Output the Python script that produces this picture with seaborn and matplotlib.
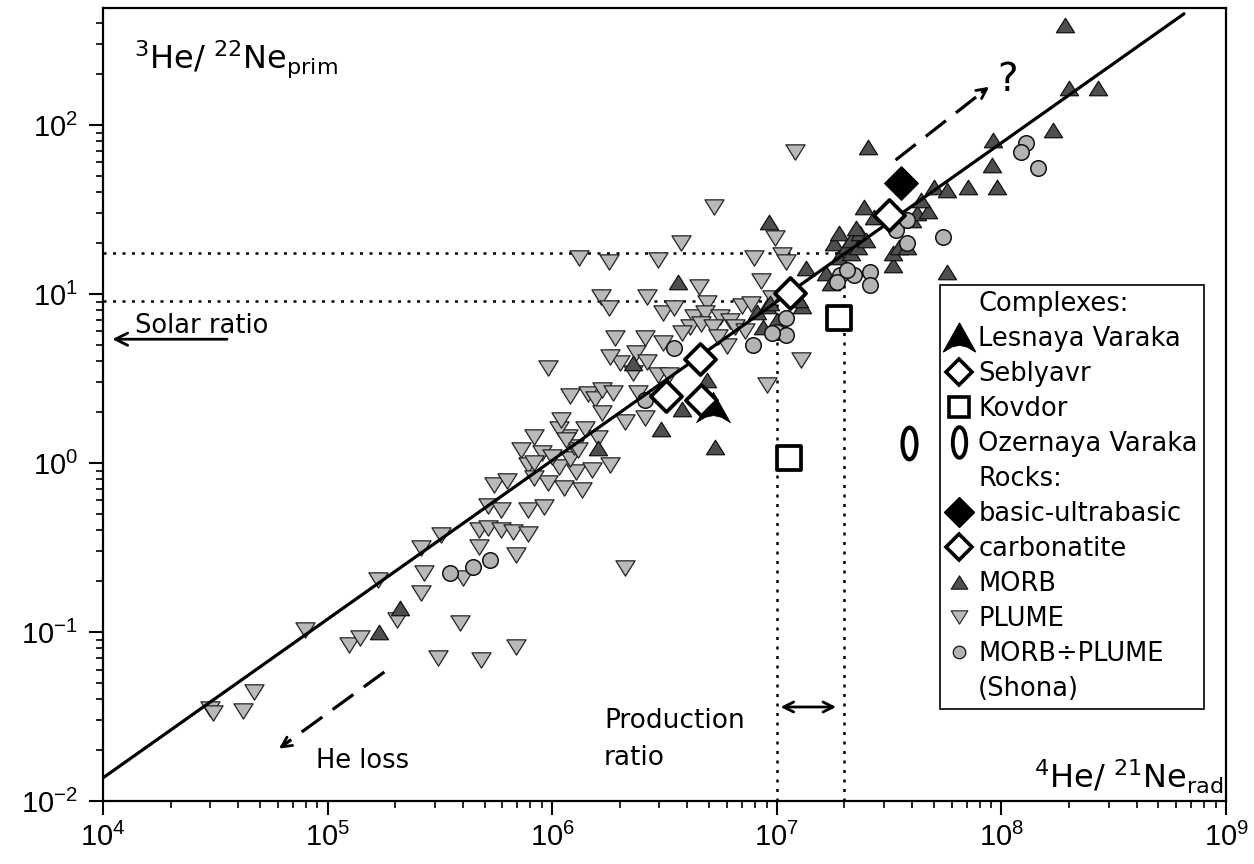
import numpy as np
import pandas as pd
import matplotlib
matplotlib.use('Agg')
import matplotlib.pyplot as plt
from matplotlib.path import Path
from matplotlib.transforms import Affine2D
from matplotlib.lines import Line2D
import seaborn as sns

# ---- data (4He/21Ne_rad, 3He/22Ne_prim) ----
plume_x = [3.0e4, 3.1e4, 4.2e4, 4.7e4, 7.9e4, 1.25e5, 1.39e5, 1.68e5, 2.03e5, 2.6e5,
           2.7e5, 2.6e5, 3.2e5, 3.1e5, 3.9e5, 4.0e5, 4.7e5, 4.8e5, 6.9e5, 6.9e5,
           4.7e5, 5.2e5, 5.9e5, 6.7e5, 7.8e5, 5.2e5, 5.9e5, 5.5e5, 6.3e5, 7.8e5,
           9.2e5, 9.6e5, 1.13e6, 1.28e6, 7.8e5, 1.07e6, 1.2e6, 7.3e5, 9.0e5, 1.25e6,
           8.3e5, 1.18e6, 1.07e6, 1.1e6, 1.2e6, 9.6e5, 8.3e5, 8.3e5, 1.0e6, 1.15e6,
           1.3e6, 1.36e6, 1.8e6, 1.5e6, 1.45e6, 1.55e6, 1.66e6, 1.87e6, 2.4e6, 1.66e6,
           2.1e6, 2.6e6, 2.0e6, 1.8e6, 2.35e6, 2.65e6, 2.3e6, 2.95e6, 3.3e6, 1.9e6,
           2.6e6, 3.1e6, 1.4e6, 1.6e6, 2.1e6, 1.32e6, 1.79e6, 2.96e6, 7.9e6, 3.74e6,
           5.25e6, 1.21e7, 4.5e6, 1.65e6, 1.79e6, 2.65e6, 3.1e6, 3.5e6, 4.9e6, 7.0e6,
           7.7e6, 4.3e6, 4.8e6, 5.6e6, 6.2e6, 4.1e6, 4.6e6, 5.2e6, 6.5e6, 6.0e6,
           5.5e6, 3.8e6, 9.8e6, 1.06e7, 1.1e7, 8.5e6, 9.0e6, 1.28e7, 7.2e6, 9.5e6]
plume_y = [0.035, 0.033, 0.034, 0.044, 0.103, 0.084, 0.092, 0.203, 0.118, 0.17,
           0.223, 0.314, 0.375, 0.07, 0.113, 0.21, 0.32, 0.068, 0.081, 0.286,
           0.40, 0.41, 0.40, 0.39, 0.38, 0.56, 0.53, 0.74, 0.78, 0.53,
           0.55, 0.76, 0.71, 0.88, 0.97, 0.95, 1.05, 1.19, 1.15, 1.24,
           1.43, 1.43, 1.6, 1.8, 2.5, 3.65, 1.0, 0.82, 1.08, 1.36,
           1.2, 0.69, 0.97, 0.91, 2.55, 2.4, 2.7, 2.6, 2.6, 1.97,
           1.75, 1.85, 3.9, 4.25, 4.5, 3.95, 3.4, 3.3, 3.3, 5.5,
           5.5, 5.1, 1.6, 1.4, 0.24, 16.3, 15.5, 15.8, 16.3, 20.0,
           32.7, 69.0, 11.0, 9.6, 8.3, 9.6, 7.7, 8.3, 8.9, 8.5,
           8.7, 7.3, 7.7, 7.3, 6.9, 6.4, 6.6, 6.4, 6.4, 4.9,
           5.6, 5.9, 21.4, 17.0, 15.5, 12.0, 2.9, 4.06, 6.0, 9.5]

morb_x = [1.7e5, 2.1e5, 1.6e6, 3.05e6, 5.3e6, 3.8e6, 4.9e6, 2.3e6, 3.63e6, 9.2e6,
          1.35e7, 8.2e6, 9.0e6, 1.3e7, 8.7e6, 1.0e7, 9.3e6, 1.25e7, 1.65e7, 1.75e7,
          1.9e7, 2.15e7, 1.8e7, 1.9e7, 2.05e7, 2.15e7, 2.35e7, 2.3e7, 2.25e7, 2.5e7,
          2.44e7, 2.7e7, 3.3e7, 3.3e7, 3.5e7, 3.8e7, 4.0e7, 4.2e7, 4.7e7, 4.4e7,
          5.0e7, 5.7e7, 7.1e7, 9.6e7, 5.7e7, 2.55e7, 9.2e7, 9.1e7, 1.7e8, 1.99e8,
          2.7e8, 1.92e8]
morb_y = [0.10, 0.139, 1.23, 1.6, 1.24, 2.1, 3.1, 3.9, 11.8, 26.7,
          14.3, 7.8, 8.5, 8.5, 6.4, 7.0, 8.8, 9.2, 13.3, 11.6,
          16.6, 17.5, 20.0, 23.0, 19.2, 21.0, 23.0, 19.0, 24.5, 21.0,
          32.7, 28.6, 14.9, 17.5, 19.0, 19.0, 27.4, 30.0, 31.0, 36.0,
          43.0, 41.0, 43.0, 43.0, 13.5, 74.0, 81.0, 58.0, 93.0, 166.0,
          166.0, 391.0]

shona_x = [3.5e5, 4.45e5, 5.3e5, 2.6e6, 3.5e6, 7.8e6, 1.0e7, 1.1e7, 9.5e6, 1.1e7,
           1.92e7, 1.85e7, 2.2e7, 2.05e7, 2.6e7, 2.6e7, 3.4e7, 3.8e7, 3.8e7, 5.5e7,
           1.28e8, 1.22e8, 1.45e8]
shona_y = [0.223, 0.243, 0.267, 2.35, 4.8, 5.0, 5.96, 5.7, 5.9, 7.2,
           12.9, 11.8, 12.9, 13.8, 13.5, 11.3, 24.0, 27.4, 20.0, 21.8,
           78.0, 69.0, 56.0]

lesnaya_x, lesnaya_y = [5.2e6], [2.14]
seblyavr_x = [3.2e6, 4.55e6, 4.6e6, 1.14e7, 3.15e7]
seblyavr_y = [2.49, 4.1, 2.37, 10.1, 29.3]
kovdor_x, kovdor_y = [1.89e7, 1.13e7], [7.2, 1.07]
ozernaya_x, ozernaya_y = [3.86e7], [1.31]
basic_x, basic_y = [3.56e7], [45.4]

# reference line and ratios
line_x = [1e4, 6.5e8]
line_y = [0.0137, 455]
ratio_hi, ratio_lo = 17.5, 9.1        # 3He/22Ne levels (dotted)
prod_lo, prod_hi = 1e7, 2e7           # production ratio range
solar_ratio = 5.4

# ---- style ----
sns.set_theme(style='ticks')
plt.rcParams['font.family'] = ['Liberation Sans', 'DejaVu Sans']
plt.rcParams['mathtext.fontset'] = 'custom'
plt.rcParams['mathtext.rm'] = 'Liberation Sans'
plt.rcParams['mathtext.it'] = 'Liberation Sans:italic'
plt.rcParams['mathtext.bf'] = 'Liberation Sans:bold'
for k in ['text.color', 'axes.labelcolor', 'xtick.color', 'ytick.color', 'axes.edgecolor']:
    plt.rcParams[k] = 'black'
note_font = 'DejaVu Sans'

# custom marker shapes
arrowhead = Path([(0, 0.85), (0.95, -0.85), (0.45, -0.55), (0, -0.45), (-0.45, -0.55),
                  (-0.95, -0.85), (0, 0.85)], closed=True)
ellipse = Path.unit_circle().transformed(Affine2D().scale(0.44, 1.0))
down_tri = Path([(0, -0.8), (-1, 0.8), (1, 0.8), (0, -0.8)], closed=True)
up_tri = Path([(0, 0.8), (-1, -0.8), (1, -0.8), (0, 0.8)], closed=True)

plume_c, morb_c, shona_c = '#b9b9b9', '#4e4e4e', '#b3b3b3'

fig = plt.figure(figsize=(12.54, 8.64), dpi=100)
ax = fig.add_axes([0.0821, 0.0729, 0.8956, 0.9178])
ax.set_xscale('log')
ax.set_yscale('log')

# dotted guide lines
dot = dict(color='black', lw=1.8, linestyle=(0, (1.2, 2.6)), zorder=1)
ax.plot([1e4, prod_hi], [ratio_hi, ratio_hi], **dot)
ax.plot([1e4, prod_lo], [ratio_lo, ratio_lo], **dot)
ax.plot([prod_lo, prod_lo], [0.01, ratio_lo], **dot)
ax.plot([prod_hi, prod_hi], [0.01, ratio_hi], **dot)

sns.scatterplot(x=plume_x, y=plume_y, ax=ax, marker=down_tri, s=190, color=plume_c,
                edgecolor='#222222', linewidth=0.9, zorder=2, legend=False)
sns.scatterplot(x=morb_x, y=morb_y, ax=ax, marker=up_tri, s=170, color=morb_c,
                edgecolor='#111111', linewidth=0.9, zorder=2.5, legend=False)
sns.scatterplot(x=shona_x, y=shona_y, ax=ax, marker='o', s=125, color=shona_c,
                edgecolor='#111111', linewidth=1.1, zorder=3, legend=False)

sns.lineplot(x=line_x, y=line_y, ax=ax, color='black', lw=2.3, zorder=3.5)

sns.scatterplot(x=lesnaya_x, y=lesnaya_y, ax=ax, marker=arrowhead, s=600, color='black',
                edgecolor='black', linewidth=0.5, zorder=5, legend=False)
sns.scatterplot(x=seblyavr_x, y=seblyavr_y, ax=ax, marker='D', s=250, color='white',
                edgecolor='black', linewidth=2.7, zorder=5, legend=False)
sns.scatterplot(x=kovdor_x, y=kovdor_y, ax=ax, marker='s', s=290, color='white',
                edgecolor='black', linewidth=2.7, zorder=5, legend=False)
sns.scatterplot(x=ozernaya_x, y=ozernaya_y, ax=ax, marker=ellipse, s=520, color='white',
                edgecolor='black', linewidth=3, zorder=5, legend=False)
sns.scatterplot(x=basic_x, y=basic_y, ax=ax, marker='D', s=290, color='black',
                edgecolor='black', linewidth=1, zorder=5, legend=False)

# arrows and annotations
ax.annotate('', xy=(1.07e4, solar_ratio), xytext=(3.67e4, solar_ratio),
            arrowprops=dict(arrowstyle='->', lw=2, color='black', mutation_scale=22))
ax.text(1.39e4, 5.9, 'Solar ratio', fontsize=18.5, family=note_font, ha='left', va='baseline')

dash = dict(color='black', lw=2.3, linestyle=(0, (8, 4)))
ax.plot([1.79e5, 6.4e4], [0.058, 0.0215], **dash)
ax.annotate('', xy=(5.93e4, 0.020), xytext=(6.6e4, 0.022),
            arrowprops=dict(arrowstyle='->', lw=2, color='black', mutation_scale=18))
ax.text(8.9e4, 0.0157, 'He loss', fontsize=18.5, family=note_font, ha='left', va='baseline')

ax.plot([3.38e7, 8.3e7], [62, 158], **dash)
ax.annotate('', xy=(9.03e7, 172), xytext=(8.0e7, 153),
            arrowprops=dict(arrowstyle='->', lw=2, color='black', mutation_scale=18))
ax.text(1.06e8, 185, '?', fontsize=28, family=note_font, ha='center', va='center')

ax.annotate('', xy=(1.89e7, 0.036), xytext=(1.01e7, 0.036),
            arrowprops=dict(arrowstyle='<->', lw=2, color='black', mutation_scale=18))
ax.text(1.70e6, 0.027, 'Production', fontsize=19, family=note_font, ha='left', va='baseline')
ax.text(1.70e6, 0.0163, 'ratio', fontsize=19, family=note_font, ha='left', va='baseline')

ax.text(0.028, 0.924, r'$\mathregular{{}^{3}He/\ {}^{22}Ne_{prim}}$', fontsize=23,
        family=note_font, transform=ax.transAxes, ha='left', va='baseline')
ax.text(0.998, 0.016, r'$\mathregular{{}^{4}He/\ {}^{21}Ne_{rad}}$', fontsize=23,
        family=note_font, transform=ax.transAxes, ha='right', va='baseline')

# axes
ax.set_xlim(1e4, 1e9)
ax.set_ylim(0.01, 492)
ax.set_xlabel('')
ax.set_ylabel('')
for sp in ax.spines.values():
    sp.set_visible(True)
    sp.set_color('black')
    sp.set_linewidth(1.6)
ax.tick_params(which='major', direction='out', length=10, width=1.5, labelsize=21,
               color='black', labelcolor='black')
ax.tick_params(which='minor', direction='out', length=5, width=1.2, color='black')
ax.tick_params(axis='y', which='major', pad=8)
ax.tick_params(axis='x', which='major', pad=6)
ax.grid(False)

# legend
blank = Line2D([], [], linestyle='none')
handles = [
    blank,
    Line2D([], [], linestyle='none', marker=arrowhead, ms=23, color='black'),
    Line2D([], [], linestyle='none', marker='D', ms=13, mfc='white', mec='black', mew=2.6),
    Line2D([], [], linestyle='none', marker='s', ms=15, mfc='white', mec='black', mew=2.6),
    Line2D([], [], linestyle='none', marker=ellipse, ms=22, mfc='white', mec='black', mew=2.8),
    blank,
    Line2D([], [], linestyle='none', marker='D', ms=15, color='black'),
    Line2D([], [], linestyle='none', marker='D', ms=13, mfc='white', mec='black', mew=2.6),
    Line2D([], [], linestyle='none', marker=up_tri, ms=12, mfc=morb_c, mec='#111111', mew=0.8),
    Line2D([], [], linestyle='none', marker=down_tri, ms=12, mfc=plume_c, mec='#222222', mew=0.8),
    Line2D([], [], linestyle='none', marker='o', ms=9, mfc=shona_c, mec='#111111', mew=0.9),
    blank,
]
labels = ['Complexes:', 'Lesnaya Varaka', 'Seblyavr', 'Kovdor', 'Ozernaya Varaka', 'Rocks:',
          'basic-ultrabasic', 'carbonatite', 'MORB', 'PLUME', 'MORB\u00f7PLUME', '(Shona)']
leg = ax.legend(handles, labels, loc='upper left', bbox_to_anchor=(0.745, 0.651),
                borderaxespad=0, prop={'family': note_font, 'size': 18.5}, handlelength=1.0,
                handletextpad=0.25, labelspacing=0.35, borderpad=0.25, frameon=True,
                fancybox=False, framealpha=1, edgecolor='black')
leg.get_frame().set_linewidth(1.2)
leg.set_zorder(10)

fig.savefig('out.png', dpi=100, facecolor='white')
